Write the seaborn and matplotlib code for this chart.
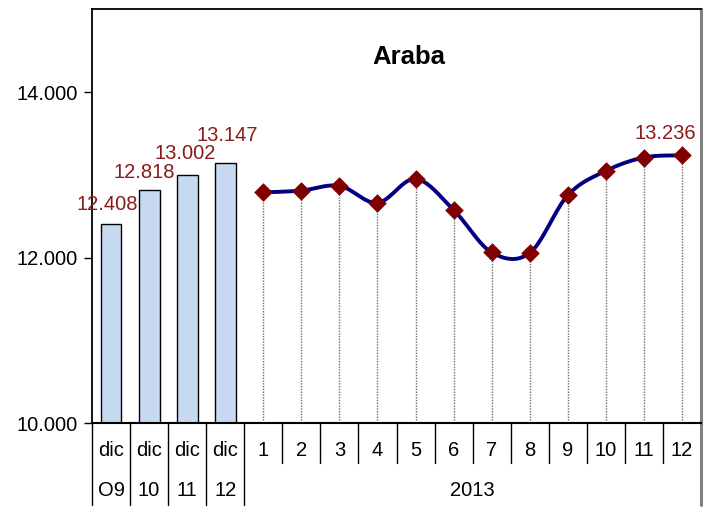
import numpy as np
import pandas as pd
import matplotlib
matplotlib.use("Agg")
import matplotlib.pyplot as plt
import seaborn as sns
from matplotlib.transforms import blended_transform_factory

# ---------------- data ----------------
title = "Araba"
row1_labels = ["dic", "dic", "dic", "dic", "1", "2", "3", "4", "5", "6",
               "7", "8", "9", "10", "11", "12"]
row2_labels = ["O9", "10", "11", "12", "2013"]
row2_starts = [0, 1, 2, 3, 4]
row2_ends = [1, 2, 3, 4, 16]
bar_values = [12408, 12818, 13002, 13147]
month_values = [12790, 12811, 12868, 12662, 12952, 12577,
                12064, 12057, 12754, 13049, 13210, 13236]
bar_labels = ["12.408", "12.818", "13.002", "13.147"]
last_label = "13.236"
yticks = [10000, 12000, 14000]
ytick_labels = ["10.000", "12.000", "14.000"]
y_min, y_max = 10000, 15000

# ---------------- style ----------------
sns.set_theme(style="white")
plt.rcParams["font.family"] = ["Liberation Sans", "DejaVu Sans"]
plt.rcParams["text.color"] = "black"
plt.rcParams["xtick.color"] = "black"
plt.rcParams["ytick.color"] = "black"
plt.rcParams["axes.labelcolor"] = "black"

FS = 14.5
W, H, DPI = 710, 507, 100
fig = plt.figure(figsize=(W / DPI, H / DPI), dpi=DPI)
ax_l, ax_r, ax_t, ax_b = 92, 701, 9.3, 423.3
ax = fig.add_axes([ax_l / W, 1 - ax_b / H, (ax_r - ax_l) / W, (ax_b - ax_t) / H])

n_cat = len(row1_labels)
bar_x = np.arange(len(bar_values))
month_x = np.arange(len(bar_values), n_cat)

# bars
bar_df = pd.DataFrame({"x": bar_x, "v": bar_values})
sns.barplot(data=bar_df, x="x", y="v", native_scale=True, width=0.55,
            color="#C6D9F1", edgecolor="black", linewidth=1.0, ax=ax,
            saturation=1)

# smoothed line (cubic Hermite through the monthly points)
xm = month_x.astype(float)
ym = np.array(month_values, dtype=float)
tang = np.zeros_like(ym)
tang[1:-1] = (ym[2:] - ym[:-2]) / 2.0
tang[0] = (ym[1] - ym[0]) / 2.0
tang[-1] = (ym[-1] - ym[-2]) / 2.0
sx, sy = [], []
for i in range(len(ym) - 1):
    t = np.linspace(0, 1, 30, endpoint=(i == len(ym) - 2))
    h00 = 2 * t**3 - 3 * t**2 + 1
    h10 = t**3 - 2 * t**2 + t
    h01 = -2 * t**3 + 3 * t**2
    h11 = t**3 - t**2
    sy.extend(h00 * ym[i] + h10 * tang[i] + h01 * ym[i + 1] + h11 * tang[i + 1])
    sx.extend(xm[i] + t)
line_df = pd.DataFrame({"x": sx, "y": sy})

# drop lines
ax.vlines(month_x, y_min, month_values, colors="#707070", linestyles=(0, (1, 1)),
          linewidth=1.0, zorder=1)

sns.lineplot(data=line_df, x="x", y="y", color="#000080", linewidth=2.8,
             ax=ax, zorder=3, sort=False)
pt_df = pd.DataFrame({"x": month_x, "y": month_values})
sns.scatterplot(data=pt_df, x="x", y="y", marker="D", s=80, color="#800000",
                edgecolor="#800000", linewidth=0.5, ax=ax, zorder=4)

# data labels
lab_col = "#8B1A1A"
bar_offsets = [(-4, 19), (-4.5, 17), (-2, 21), (2, 27)]
for xi, v, lab, off in zip(bar_x, bar_values, bar_labels, bar_offsets):
    ax.annotate(lab, (xi, v), xytext=off, textcoords="offset pixels",
                ha="center", va="center", fontsize=FS, color=lab_col)
ax.annotate(last_label, (month_x[-1], month_values[-1]), xytext=(-17, 22),
            textcoords="offset pixels", ha="center", va="center",
            fontsize=FS, color=lab_col)

# axes
ax.set_xlim(-0.5, n_cat - 0.5)
ax.set_ylim(y_min, y_max)
ax.set_yticks(yticks)
ax.set_yticklabels(ytick_labels, fontsize=FS)
ax.set_xticks([])
ax.set_xlabel("")
ax.set_ylabel("")
ax.tick_params(axis="y", direction="out", length=6, width=1, color="black",
               left=True, pad=4)
for s in ["left", "top", "bottom"]:
    ax.spines[s].set_color("black")
ax.spines["left"].set_linewidth(1.3)
ax.spines["top"].set_linewidth(1.3)
ax.spines["bottom"].set_linewidth(1.5)
ax.spines["right"].set_color("#808080")
ax.spines["right"].set_linewidth(2.2)

# title
fig.text(409 / W, 1 - 57 / H, title, ha="center", va="center",
         fontsize=18.5, fontweight="bold", color="black")

# two-level category axis
trans = blended_transform_factory(ax.transData, ax.transAxes)
px = 1.0 / (ax_b - ax_t)  # one pixel in axes fraction
for b in range(n_cat + 1):
    xb = b - 0.5
    deep = b in row2_starts or b == n_cat
    y_end = -(505 - ax_b) * px if deep else -(463 - ax_b) * px
    col = "#808080" if b == n_cat else "black"
    lw = 2.2 if b == n_cat else 1.0
    ax.plot([xb, xb], [0, y_end], transform=trans, clip_on=False,
            color=col, linewidth=lw)
for i, lab in enumerate(row1_labels):
    ax.text(i, -(450 - ax_b) * px, lab, transform=trans, ha="center",
            va="center", fontsize=FS)
for lab, s, e in zip(row2_labels, row2_starts, row2_ends):
    ax.text((s + e - 1) / 2.0, -(491 - ax_b) * px, lab, transform=trans,
            ha="center", va="center", fontsize=FS)

fig.savefig("out.png", dpi=DPI)
